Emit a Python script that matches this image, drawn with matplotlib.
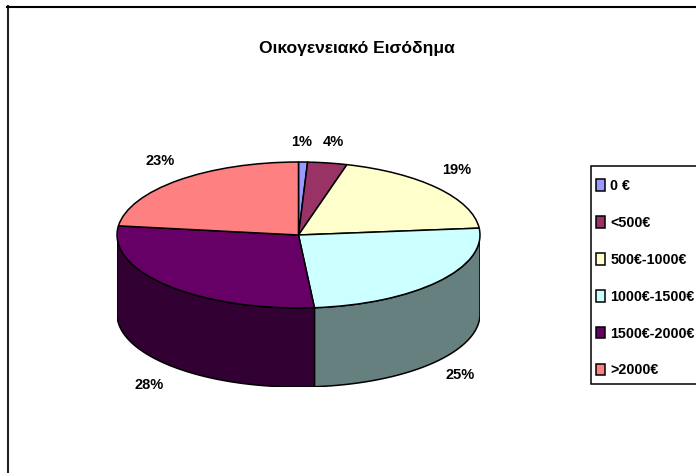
import numpy as np
import matplotlib
matplotlib.use("Agg")
import matplotlib.pyplot as plt
from matplotlib.colors import to_rgb
from matplotlib.lines import Line2D
from matplotlib.patches import Rectangle

title = "Οικογενειακό Εισόδημα"
categories = ["0 €", "<500€", "500€-1000€", "1000€-1500€", "1500€-2000€", ">2000€"]
values = [0.8, 3.5, 19.2, 25.1, 28.4, 23.0]
colors = ["#9999FF", "#993366", "#FFFFCC", "#CCFFFF", "#660066", "#FF8080"]

W, H = 696, 473
plt.rcParams["font.family"] = ["Liberation Sans", "DejaVu Sans"]
plt.rcParams["font.weight"] = "bold"
fig = plt.figure(figsize=(W / 100, H / 100), dpi=100, facecolor="white")

# pie axes: unit circle squashed to an ellipse, with room underneath for the wall
cx, cy, rx, ry, depth = 298.5, 235, 181.5, 73, 79
ax = fig.add_axes([(cx - rx) / W, 1 - (cy + ry + depth) / H, 2 * rx / W, (2 * ry + depth) / H])

edge = dict(edgecolor="black", linewidth=1.1)
wedges, _ = ax.pie(values, colors=colors, startangle=90, counterclock=False,
                   wedgeprops=edge, frame=True)
ax.set_aspect("auto")
ax.set_xlim(-1, 1)
d = depth / ry
ax.set_ylim(-1 - d, 1)
ax.axis("off")

# cylindrical wall of the visible (front) half
cum = np.cumsum([0] + values) / sum(values) * 360
for i, c in enumerate(colors):
    a0, a1 = max(cum[i], 90), min(cum[i + 1], 270)
    if a1 <= a0:
        continue
    t = np.radians(np.linspace(a0, a1, 120))
    x, y = np.sin(t), np.cos(t)
    ax.fill(np.r_[x, x[::-1]], np.r_[y, y[::-1] - d],
            facecolor=tuple(v * 0.5 for v in to_rgb(c)), zorder=0, **edge)

# percentage labels
label_px = [(302, 142), (333, 142), (457, 170), (460, 375), (149, 385), (160, 161)]
for v, (px, py) in zip(values, label_px):
    fig.text(px / W, 1 - py / H, f"{v:.0f}%", ha="center", va="center", fontsize=10.5)

fig.text(357 / W, 1 - 48 / H, title, ha="center", va="center", fontsize=12.6)

# legend box (its right side runs off the canvas)
fig.add_artist(Rectangle((591 / W, 1 - 384 / H), 120 / W, 218 / H, transform=fig.transFigure,
                         facecolor="white", edgecolor="black", linewidth=1.1))
handles = [Rectangle((0, 0), 1, 1, facecolor=c, edgecolor="black", linewidth=1.1) for c in colors]
leg = fig.legend(handles, categories, loc="upper left",
                 bbox_to_anchor=(596 / W, 1 - 179 / H), bbox_transform=fig.transFigure,
                 fontsize=10.3, frameon=False, borderaxespad=0, borderpad=0,
                 labelspacing=1.6, handlelength=0.63, handleheight=0.87, handletextpad=0.36)
leg.set_zorder(5)

# outer chart frame (left and top sides only are visible)
fig.add_artist(Line2D([8 / W, 8 / W], [0, 1 - 6 / H], color="#222222", linewidth=1.5))
fig.add_artist(Line2D([7 / W, 1], [1 - 7 / H, 1 - 7 / H], color="black", linewidth=1.5))

fig.savefig("out.png", dpi=100, facecolor="white")
